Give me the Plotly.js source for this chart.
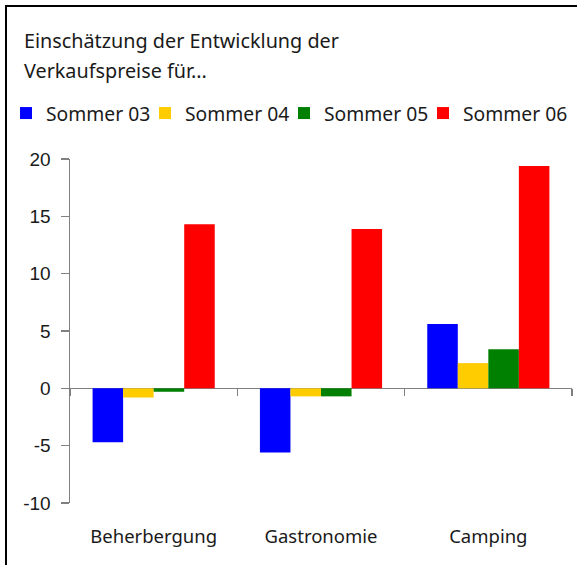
<!DOCTYPE html>
<html><head><meta charset="utf-8">
<script src="https://cdn.plot.ly/plotly-3.0.1.min.js"></script>
<style>
html,body{margin:0;padding:0;overflow:hidden;background:#fff}
#chart{position:absolute;left:0;top:0;width:577px;height:565px}
#frame{position:absolute;left:5px;top:5px;width:700px;height:700px;border-left:2.5px solid #000;border-top:2.5px solid #000;pointer-events:none;z-index:5}
</style></head>
<body>
<div id="chart"></div><div id="frame"></div>
<script>
var categories = ['Beherbergung', 'Gastronomie', 'Camping'];
var seriesNames = ['Sommer 03', 'Sommer 04', 'Sommer 05', 'Sommer 06'];
var sommer03 = [-4.7, -5.6, 5.6];
var sommer04 = [-0.8, -0.7, 2.2];
var sommer05 = [-0.3, -0.7, 3.4];
var sommer06 = [14.3, 13.9, 19.4];
var colors = ['#0000FF', '#FFCC00', '#008000', '#FF0000'];
var titleLines = ['Einschätzung der Entwicklung der', 'Verkaufspreise für...'];
var yTicks = [-10, -5, 0, 5, 10, 15, 20];

var W = 577, H = 565;
var M = {l: 70, r: 5, t: 159, b: 62};
var PW = W - M.l - M.r, PH = H - M.t - M.b;
function px(x){ return (x - M.l) / PW; }
function py(y){ return (H - M.b - y) / PH; }

var humanist = 'Noto Sans, DejaVu Sans, sans-serif';
var textColor = '#1a1a1a';
var values = [sommer03, sommer04, sommer05, sommer06];
var traces = values.map(function(v, i){
  var t = {type: 'bar', x: categories, y: v, name: seriesNames[i],
    marker: {color: colors[i], line: {width: 0}}, hoverinfo: 'skip'};
  if (i === values.length - 1) t.legendwidth = 104;
  return t;
});
traces.push({type: 'scatter', mode: 'markers', x: categories, y: [0, 0, 0],
  xaxis: 'x2', yaxis: 'y', marker: {opacity: 0}, showlegend: false, hoverinfo: 'skip'});

var layout = {
  width: W, height: H,
  margin: M,
  paper_bgcolor: '#fff', plot_bgcolor: '#fff',
  font: {family: humanist, size: 19, color: textColor},
  barmode: 'group', bargap: 0.27, bargroupgap: 0,
  showlegend: true,
  legend: {orientation: 'h', x: px(6), xanchor: 'left', y: py(113.5), yanchor: 'middle',
    font: {family: humanist, size: 19.3, color: textColor}, entrywidth: 94,
    bgcolor: 'rgba(0,0,0,0)', borderwidth: 0, traceorder: 'normal'},
  xaxis: {type: 'category', categoryorder: 'array', categoryarray: categories,
    range: [-0.5, 2.5], showline: false, showgrid: false, zeroline: false,
    ticks: '', ticklabelstandoff: 20,
    tickfont: {family: humanist, size: 18.5, color: textColor}, fixedrange: true},
  xaxis2: {type: 'category', categoryorder: 'array', categoryarray: categories,
    range: [-0.5, 2.5], overlaying: 'x', anchor: 'free', position: 1/3, side: 'bottom',
    showline: false, showgrid: false, zeroline: false, showticklabels: false,
    ticks: 'outside', tickson: 'boundaries', ticklen: 7, tickwidth: 1.5, tickcolor: '#808080'},
  yaxis: {range: [-10, 20], tickvals: yTicks, ticktext: yTicks.map(String),
    showline: true, linecolor: '#808080', linewidth: 1.5,
    ticks: 'outside', ticklen: 8, tickwidth: 1.5, tickcolor: '#808080',
    showgrid: false, zeroline: true, zerolinecolor: '#808080', zerolinewidth: 1.5,
    ticklabelstandoff: 6,
    tickfont: {family: 'Liberation Sans, Arial, sans-serif', size: 19, color: textColor}},
  annotations: titleLines.map(function(t, i){
    return {text: t, xref: 'paper', yref: 'paper', x: px(22), y: py(40 + i * 30.7),
      xanchor: 'left', yanchor: 'middle', showarrow: false,
      font: {family: humanist, size: 19.8, color: textColor}};
  })
};
Plotly.newPlot('chart', traces, layout, {displayModeBar: false, staticPlot: true});
</script>
</body></html>
